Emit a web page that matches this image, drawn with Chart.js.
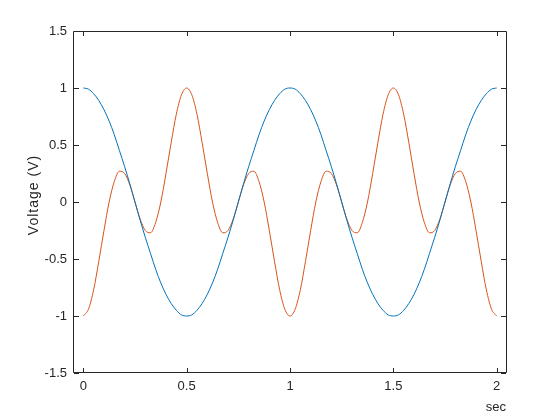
<!DOCTYPE html>
<html>
<head>
<meta charset="utf-8">
<script src="https://cdn.jsdelivr.net/npm/chart.js@4.4.0/dist/chart.umd.min.js"></script>
<style>
  html, body { margin: 0; padding: 0; background: #fff; }
  #chart { display: block; }
</style>
</head>
<body>
<canvas id="chart" width="560" height="420" style="width:560px;height:420px"></canvas>
<script>
// time samples (sec), every 0.025 s from 0 to 2
var times = [
  0, 0.025, 0.05, 0.075, 0.1, 0.125, 0.15, 0.175, 0.2, 0.225,
  0.25, 0.275, 0.3, 0.325, 0.35, 0.375, 0.4, 0.425, 0.45, 0.475,
  0.5, 0.525, 0.55, 0.575, 0.6, 0.625, 0.65, 0.675, 0.7, 0.725,
  0.75, 0.775, 0.8, 0.825, 0.85, 0.875, 0.9, 0.925, 0.95, 0.975,
  1, 1.025, 1.05, 1.075, 1.1, 1.125, 1.15, 1.175, 1.2, 1.225,
  1.25, 1.275, 1.3, 1.325, 1.35, 1.375, 1.4, 1.425, 1.45, 1.475,
  1.5, 1.525, 1.55, 1.575, 1.6, 1.625, 1.65, 1.675, 1.7, 1.725,
  1.75, 1.775, 1.8, 1.825, 1.85, 1.875, 1.9, 1.925, 1.95, 1.975,
  2
];

// blue trace
var blueVolts = [
  1, 0.99, 0.95, 0.89, 0.81, 0.71, 0.59, 0.45, 0.31, 0.16,
  0, -0.16, -0.31, -0.45, -0.59, -0.71, -0.81, -0.89, -0.95, -0.99,
  -1, -0.99, -0.95, -0.89, -0.81, -0.71, -0.59, -0.45, -0.31, -0.16,
  0, 0.16, 0.31, 0.45, 0.59, 0.71, 0.81, 0.89, 0.95, 0.99,
  1, 0.99, 0.95, 0.89, 0.81, 0.71, 0.59, 0.45, 0.31, 0.16,
  0, -0.16, -0.31, -0.45, -0.59, -0.71, -0.81, -0.89, -0.95, -0.99,
  -1, -0.99, -0.95, -0.89, -0.81, -0.71, -0.59, -0.45, -0.31, -0.16,
  0, 0.16, 0.31, 0.45, 0.59, 0.71, 0.81, 0.89, 0.95, 0.99,
  1
];

// orange trace
var orangeVolts = [
  -1, -0.94, -0.77, -0.52, -0.25, 0, 0.18, 0.27, 0.25, 0.15,
  0, -0.15, -0.25, -0.27, -0.18, 0, 0.25, 0.52, 0.77, 0.94,
  1, 0.94, 0.77, 0.52, 0.25, 0, -0.18, -0.27, -0.25, -0.15,
  0, 0.15, 0.25, 0.27, 0.18, 0, -0.25, -0.52, -0.77, -0.94,
  -1, -0.94, -0.77, -0.52, -0.25, 0, 0.18, 0.27, 0.25, 0.15,
  0, -0.15, -0.25, -0.27, -0.18, 0, 0.25, 0.52, 0.77, 0.94,
  1, 0.94, 0.77, 0.52, 0.25, 0, -0.18, -0.27, -0.25, -0.15,
  0, 0.15, 0.25, 0.27, 0.18, 0, -0.25, -0.52, -0.77, -0.94,
  -1
];

var xTicks = [0, 0.5, 1, 1.5, 2];
var xTickLabels = ["0", "0.5", "1", "1.5", "2"];
var yTicks = [-1.5, -1, -0.5, 0, 0.5, 1, 1.5];
var yTickLabels = ["-1.5", "-1", "-0.5", "0", "0.5", "1", "1.5"];

var axisColor = "#262626";
var fontFamily = "'Liberation Sans', Arial, Helvetica, sans-serif";

function toPoints(xs, ys) {
  var pts = [];
  for (var i = 0; i < xs.length; i++) {
    pts.push({ x: xs[i], y: ys[i] });
  }
  return pts;
}

// MATLAB-like box with inward tick marks on all four sides
var boxPlugin = {
  id: "box",
  afterDatasetsDraw: function (chart) {
    var ctx = chart.ctx;
    var a = chart.chartArea;
    var xs = chart.scales.x;
    var ys = chart.scales.y;
    var len = 5;
    ctx.save();
    ctx.strokeStyle = axisColor;
    ctx.lineWidth = 1;
    ctx.beginPath();
    ctx.moveTo(a.left - 0.5, a.top + 0.5);
    ctx.lineTo(a.right + 0.5, a.top + 0.5);
    ctx.lineTo(a.right + 0.5, a.bottom - 0.5);
    ctx.lineTo(a.left - 0.5, a.bottom - 0.5);
    ctx.closePath();
    xs.ticks.forEach(function (t) {
      var px = Math.round(xs.getPixelForValue(t.value)) + 0.5;
      ctx.moveTo(px, a.bottom);
      ctx.lineTo(px, a.bottom - len);
      ctx.moveTo(px, a.top);
      ctx.lineTo(px, a.top + len);
    });
    ys.ticks.forEach(function (t) {
      var py = Math.round(ys.getPixelForValue(t.value)) + 0.5;
      ctx.moveTo(a.left, py);
      ctx.lineTo(a.left + len, py);
      ctx.moveTo(a.right, py);
      ctx.lineTo(a.right - len, py);
    });
    ctx.stroke();
    ctx.restore();
  },
};

var ctx = document.getElementById("chart").getContext("2d");

new Chart(ctx, {
  type: "line",
  data: {
    datasets: [
      {
        data: toPoints(times, blueVolts),
        borderColor: "#0072BD",
        borderWidth: 1,
        pointRadius: 0,
        cubicInterpolationMode: "monotone",
        fill: false,
      },
      {
        data: toPoints(times, orangeVolts),
        borderColor: "#D95319",
        borderWidth: 1,
        pointRadius: 0,
        cubicInterpolationMode: "monotone",
        fill: false,
      },
    ],
  },
  options: {
    responsive: false,
    animation: false,
    layout: {
      padding: { top: 31, right: 54, left: 0, bottom: 0 },
    },
    plugins: {
      legend: { display: false },
      tooltip: { enabled: false },
    },
    scales: {
      x: {
        type: "linear",
        min: -0.045,
        max: 2.045,
        grid: { display: false, drawTicks: false },
        border: { display: false },
        afterBuildTicks: function (scale) {
          scale.ticks = xTicks.map(function (v) { return { value: v }; });
        },
        afterFit: function (scale) {
          scale.height = 47;
        },
        ticks: {
          autoSkip: false,
          maxRotation: 0,
          padding: 6,
          color: axisColor,
          font: { family: fontFamily, size: 13 },
          callback: function (value) {
            return xTickLabels[xTicks.indexOf(value)];
          },
        },
        title: {
          display: true,
          text: "sec",
          align: "end",
          color: axisColor,
          padding: { top: 0, bottom: 5 },
          font: { family: fontFamily, size: 13 },
        },
      },
      y: {
        type: "linear",
        min: -1.5,
        max: 1.5,
        grid: { display: false, drawTicks: false },
        border: { display: false },
        afterBuildTicks: function (scale) {
          scale.ticks = yTicks.map(function (v) { return { value: v }; });
        },
        afterFit: function (scale) {
          scale.width = 74;
          if (!scale.drawTitleOrig) {
            scale.drawTitleOrig = scale.drawTitle;
            scale.drawTitle = function () {
              this.ctx.save();
              this.ctx.letterSpacing = "1px";
              this.ctx.translate(0, -7);
              this.drawTitleOrig();
              this.ctx.restore();
            };
          }
        },
        ticks: {
          padding: 7,
          color: axisColor,
          font: { family: fontFamily, size: 13 },
          callback: function (value) {
            return yTickLabels[yTicks.indexOf(value)];
          },
        },
        title: {
          display: true,
          text: "Voltage (V)",
          color: axisColor,
          padding: { top: 26, bottom: 0 },
          font: { family: fontFamily, size: 14 },
        },
      },
    },
  },
  plugins: [boxPlugin],
});
</script>
</body>
</html>
